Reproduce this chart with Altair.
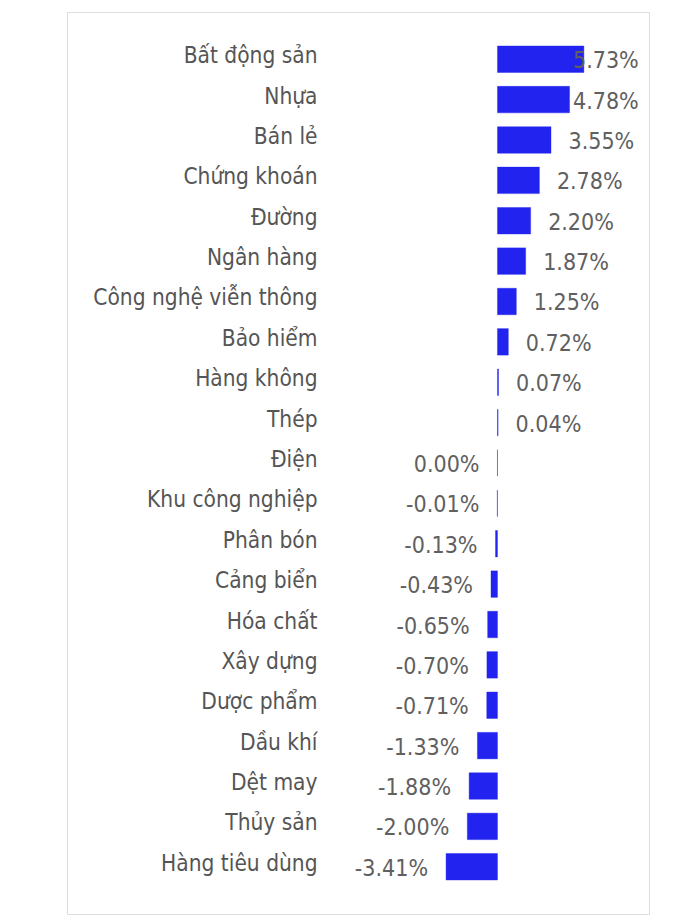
import altair as alt
import pandas as pd

categories = ["Bất động sản", "Nhựa", "Bán lẻ", "Chứng khoán", "Đường", "Ngân hàng",
              "Công nghệ viễn thông", "Bảo hiểm", "Hàng không", "Thép", "Điện",
              "Khu công nghiệp", "Phân bón", "Cảng biển", "Hóa chất", "Xây dựng",
              "Dược phẩm", "Dầu khí", "Dệt may", "Thủy sản", "Hàng tiêu dùng"]
values = [5.73, 4.78, 3.55, 2.78, 2.20, 1.87, 1.25, 0.72, 0.07, 0.04, 0.00,
          -0.01, -0.13, -0.43, -0.65, -0.70, -0.71, -1.33, -1.88, -2.00, -3.41]

df = pd.DataFrame({"cat": categories, "v": values})
df["label"] = [f"{v:.2f}%" for v in values]

FONT = "DejaVu Sans Condensed"
BLUE = "#2323F0"

y_enc = alt.Y("cat:N", sort=categories, title=None,
              scale=alt.Scale(paddingInner=0.344, paddingOuter=0.842),
              axis=alt.Axis(domain=False, ticks=False, grid=False, offset=-250,
                            labelPadding=0, labelFont=FONT, labelFontSize=22.5,
                            labelColor="#555555", labelOffset=-3, labelLimit=400))
x_scale = alt.Scale(domain=[-28.55, 10.05], nice=False, zero=False)

base = alt.Chart(df)

bars = base.mark_bar(color=BLUE, stroke=BLUE, strokeWidth=1, strokeOpacity=0.4).encode(
    y=y_enc,
    x=alt.X("v:Q", scale=x_scale, axis=None),
    x2=alt.datum(0),
)

pos = base.transform_filter("datum.v > 0").transform_calculate(
    lx="min(datum.v, 3.85)"
).mark_text(align="left", baseline="middle", dx=17.5, dy=2, font=FONT,
            fontSize=23, color="#606060").encode(
    y=alt.Y("cat:N", sort=categories),
    x=alt.X("lx:Q", scale=x_scale),
    text="label:N",
)

neg = base.transform_filter("datum.v <= 0").mark_text(
    align="right", baseline="middle", dx=-18, dy=2, font=FONT, fontSize=23,
    color="#606060").encode(
    y=alt.Y("cat:N", sort=categories),
    x=alt.X("v:Q", scale=x_scale),
    text="label:N",
)

chart = alt.layer(bars, pos, neg).properties(
    width=582, height=902,
    padding={"left": 59, "top": 4, "right": 4, "bottom": 4},
    autosize=alt.AutoSizeParams(type="none"),
).configure_view(stroke="#d6d6d6", strokeWidth=1.5).configure(background="white")

chart.save("out.html", embed_options={"renderer": "svg", "actions": False})
